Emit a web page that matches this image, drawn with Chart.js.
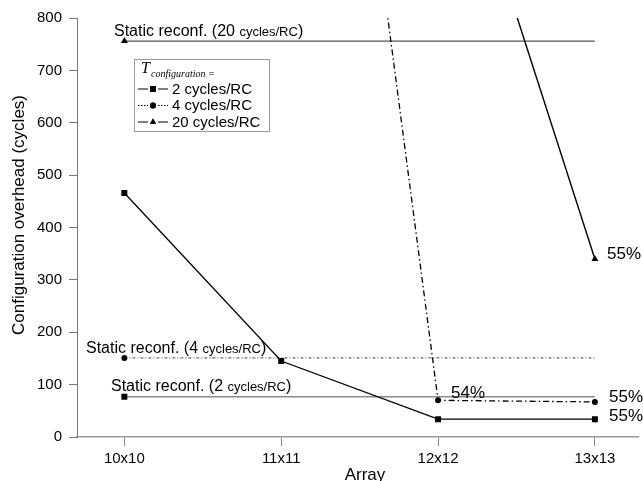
<!DOCTYPE html>
<html>
<head>
<meta charset="utf-8">
<script src="https://cdn.jsdelivr.net/npm/chart.js@4/dist/chart.umd.min.js"></script>
<style>
  html, body { margin: 0; padding: 0; background: #fff; }
  #wrap { width: 643px; height: 481px; position: relative; }
</style>
</head>
<body>
<div id="wrap"><canvas id="chart"></canvas></div>
<script>
// categories on the x axis
const arrays = ["10x10", "11x11", "12x12", "13x13"];
const yTicks = [0, 100, 200, 300, 400, 500, 600, 700, 800];

// overhead per array size (null = not plotted / off chart)
const cfg2 = [466, 145, 34, 34];
const cfg4 = [null, 2350, 70, 67];
const cfg20 = [null, null, 1270, 340];

// static reconfiguration levels
const static2 = [77, 77, 77, 77];
const static4 = [151, 151, 151, 151];
const static20 = [756, 756, 756, 756];

// percentage labels next to the last points
const pctLabels = [
  { text: "54%", x: 451, y: 398 },
  { text: "55%", x: 609, y: 402 },
  { text: "55%", x: 609, y: 421 },
  { text: "55%", x: 607, y: 259 },
];

function pts(arr) {
  return arr.map((v, i) => ({ x: i, y: v }));
}

const seriesDefs = [
  { label: "2 cycles/RC", data: cfg2, dash: [], style: "rect", radius: [4.2, 4.2, 4.2, 4.2], legendR: 4, width: 1.3 },
  { label: "4 cycles/RC", data: cfg4, dash: [6, 3, 1.5, 3], style: "circle", radius: [0, 0, 3, 3], legendR: 3, width: 1.3 },
  { label: "20 cycles/RC", data: cfg20, dash: [], style: "triangle", radius: [0, 0, 0, 4], legendR: 3.5, width: 1.4 },
];

const datasets = seriesDefs.map((s) => ({
  label: s.label,
  data: pts(s.data),
  borderColor: "#000",
  backgroundColor: "#000",
  borderWidth: s.width,
  borderDash: s.dash,
  pointStyle: s.style,
  pointRadius: s.radius,
  pointBorderWidth: 0,
  spanGaps: false,
  tension: 0,
}));

datasets.push(
  {
    label: "static2",
    data: pts(static2),
    borderColor: "#8a8a8a",
    borderWidth: 1.5,
    pointStyle: "rect",
    pointRadius: [4.2, 0, 0, 0],
    pointBackgroundColor: "#000",
    pointBorderWidth: 0,
  },
  {
    label: "static4",
    data: pts(static4),
    borderColor: "#333",
    borderWidth: 0.9,
    borderDash: [3, 2, 1, 2],
    pointStyle: "circle",
    pointRadius: [3, 0, 0, 0],
    pointBackgroundColor: "#000",
    pointBorderWidth: 0,
  },
  {
    label: "static20",
    data: pts(static20),
    borderColor: "#555",
    borderWidth: 1.2,
    pointStyle: "triangle",
    pointRadius: [4, 0, 0, 0],
    pointBackgroundColor: "#000",
    pointBorderWidth: 0,
  }
);

// draws text annotations, axis titles and the legend box
const annotations = {
  id: "annotations",
  afterDraw(chart) {
    const ctx = chart.ctx;
    ctx.save();
    ctx.fillStyle = "#000";
    ctx.textBaseline = "alphabetic";
    ctx.textAlign = "left";

    // "Static reconf. (N cycles/RC)" with the smaller unit text
    function staticLabel(x, y, num) {
      ctx.font = "16px Arial, 'Liberation Sans'";
      let t = "Static reconf. (" + num + " ";
      ctx.fillText(t, x, y);
      x += ctx.measureText(t).width;
      ctx.font = "13px Arial, 'Liberation Sans'";
      t = "cycles/RC";
      ctx.fillText(t, x, y);
      x += ctx.measureText(t).width;
      ctx.font = "16px Arial, 'Liberation Sans'";
      ctx.fillText(")", x, y);
    }
    staticLabel(114, 36, "20");
    staticLabel(86, 353, "4");
    staticLabel(111, 391, "2");

    ctx.font = "17px Arial, 'Liberation Sans'";
    pctLabels.forEach((p) => ctx.fillText(p.text, p.x, p.y));

    // axis titles
    ctx.font = "17px Arial, 'Liberation Sans'";
    ctx.textAlign = "center";
    ctx.fillText("Array", 365, 480);
    ctx.save();
    ctx.translate(24, 215);
    ctx.rotate(-Math.PI / 2);
    ctx.fillText("Configuration overhead (cycles)", 0, 0);
    ctx.restore();

    // legend
    const bx = 134.5, by = 59.5, bw = 135, bh = 72;
    ctx.fillStyle = "#fff";
    ctx.fillRect(bx, by, bw, bh);
    ctx.strokeStyle = "#999";
    ctx.lineWidth = 1;
    ctx.strokeRect(bx, by, bw, bh);

    ctx.fillStyle = "#000";
    ctx.textAlign = "left";
    ctx.font = "italic 16px 'Liberation Serif', 'DejaVu Serif', serif";
    ctx.fillText("T", 141, 73);
    ctx.font = "italic 10px 'Liberation Serif', 'DejaVu Serif', serif";
    ctx.fillText("configuration =", 151, 77);

    const rowY = [89, 105.5, 122];
    seriesDefs.forEach((s, i) => {
      const y = rowY[i];
      ctx.strokeStyle = "#000";
      ctx.lineWidth = 1;
      ctx.setLineDash(i === 1 ? [1.5, 1.5] : []);
      ctx.beginPath();
      ctx.moveTo(138, y);
      ctx.lineTo(148, y);
      ctx.moveTo(158, y);
      ctx.lineTo(168, y);
      ctx.stroke();
      ctx.setLineDash([]);
      Chart.helpers.drawPoint(ctx, { pointStyle: s.style, radius: s.legendR, borderWidth: 0, rotation: 0 }, 153, y);
      ctx.fillStyle = "#000";
      ctx.fill();
      ctx.font = "15px Arial, 'Liberation Sans'";
      ctx.textBaseline = "middle";
      ctx.fillText(s.label, 172, y + 0.5);
      ctx.textBaseline = "alphabetic";
    });
    ctx.restore();
  },
};

new Chart(document.getElementById("chart"), {
  type: "line",
  data: { datasets: datasets },
  options: {
    responsive: true,
    maintainAspectRatio: false,
    animation: false,
    layout: { padding: { top: 18, left: 0, right: 0, bottom: 0 } },
    plugins: {
      legend: { display: false },
      tooltip: { enabled: false },
    },
    scales: {
      x: {
        type: "linear",
        min: -0.302,
        max: 3.28,
        afterBuildTicks: (scale) => {
          scale.ticks = arrays.map((_, i) => ({ value: i }));
        },
        afterFit: (scale) => {
          scale.height = 44;
        },
        ticks: {
          callback: (v) => arrays[v],
          color: "#000",
          font: { family: "Arial, 'Liberation Sans'", size: 15 },
          padding: 4,
          maxRotation: 0,
        },
        grid: {
          drawOnChartArea: false,
          drawTicks: true,
          tickLength: 9,
          color: "#888",
        },
        border: { color: "#999", width: 1.5 },
      },
      y: {
        min: 0,
        max: 800,
        afterBuildTicks: (scale) => {
          scale.ticks = yTicks.map((v) => ({ value: v }));
        },
        afterFit: (scale) => {
          scale.width = 77;
        },
        ticks: {
          color: "#000",
          font: { family: "Arial, 'Liberation Sans'", size: 15 },
          padding: 7,
        },
        grid: {
          drawOnChartArea: false,
          drawTicks: true,
          tickLength: 8,
          color: "#777",
        },
        border: { color: "#777", width: 1 },
      },
    },
  },
  plugins: [annotations],
});
</script>
</body>
</html>
